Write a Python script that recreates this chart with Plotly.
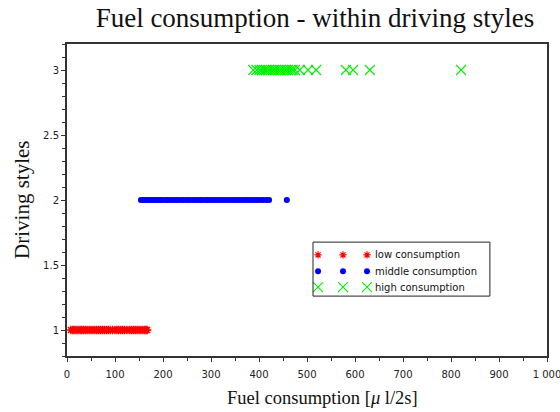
import plotly.graph_objects as go

# Fuel consumption per sample, grouped by driving style
low_fuel = [8, 12, 15, 19, 23, 27, 30, 34, 38, 42, 46, 50, 54, 58, 62, 66, 70, 74,
            78, 82, 86, 90, 95, 100, 104, 108, 112, 116, 120, 125, 130, 134, 138,
            142, 146, 150, 154, 158, 162, 165, 167]
middle_fuel = [154, 159, 164, 169, 174, 179, 184, 189, 194, 199, 205, 210, 216, 221,
               227, 232, 238, 243, 249, 254, 260, 266, 271, 277, 282, 288, 293, 299,
               304, 310, 316, 321, 327, 332, 338, 344, 349, 355, 360, 366, 372, 377,
               383, 388, 394, 399, 405, 410, 416, 421, 458]
high_fuel = [388, 395, 401, 406, 411, 415, 420, 425, 430, 435, 440, 445, 450, 455,
             460, 465, 470, 475, 485, 502, 519, 581, 596, 631, 821]

style_low = 1
style_middle = 2
style_high = 3

x_ticks = [0, 100, 200, 300, 400, 500, 600, 700, 800, 900, 1000]
x_tick_text = ["0", "100", "200", "300", "400", "500", "600", "700", "800", "900", "1 000"]
y_ticks = [1, 1.5, 2, 2.5, 3]

series_names = ["low consumption", "middle consumption", "high consumption"]

RED = "#ff0000"
BLUE = "#0000ff"
GREEN = "#00ee00"

fig = go.Figure()

fig.add_trace(go.Scatter(
    x=low_fuel, y=[style_low] * len(low_fuel), mode="markers",
    marker=dict(symbol="asterisk-open", size=7, color=RED,
                line=dict(color=RED, width=1.4)),
    showlegend=False, hoverinfo="x+y"))
fig.add_trace(go.Scatter(
    x=middle_fuel, y=[style_middle] * len(middle_fuel), mode="markers",
    marker=dict(symbol="circle", size=6, color=BLUE, line=dict(width=0)),
    showlegend=False, hoverinfo="x+y"))
fig.add_trace(go.Scatter(
    x=high_fuel, y=[style_high] * len(high_fuel), mode="markers",
    marker=dict(symbol="x-thin-open", size=10, color=GREEN,
                line=dict(color=GREEN, width=1.1)),
    showlegend=False, hoverinfo="x+y"))

# Legend: three sample glyphs per row, drawn on a helper axis spanning the plot
key_x = [0.523, 0.575, 0.625]
key_rows = [0.324, 0.272, 0.221]
key_styles = [
    dict(symbol="asterisk-open", size=6, color=RED, line=dict(color=RED, width=1.2)),
    dict(symbol="circle", size=6, color=BLUE, line=dict(width=0)),
    dict(symbol="x-thin-open", size=10, color=GREEN, line=dict(color=GREEN, width=1.1)),
]
for row_y, style in zip(key_rows, key_styles):
    fig.add_trace(go.Scatter(
        x=key_x, y=[row_y] * len(key_x), mode="markers", marker=style,
        xaxis="x2", yaxis="y2", showlegend=False, hoverinfo="skip"))

fig.add_shape(type="rect", xref="paper", yref="paper",
              x0=0.5125, x1=0.881, y0=0.192, y1=0.365,
              line=dict(color="#222222", width=1), fillcolor="rgba(0,0,0,0)")
for row_y, name in zip(key_rows, series_names):
    fig.add_annotation(xref="paper", yref="paper", x=0.638, y=row_y, text=name,
                       showarrow=False, xanchor="left", yanchor="middle",
                       font=dict(family="DejaVu Sans", size=10, color="#111111"))

axis_font = dict(family="DejaVu Sans", size=10, color="#222222")
title_font = "Liberation Serif"

# Axis titles placed as annotations
fig.add_annotation(xref="paper", yref="paper", x=0.532, y=-0.135,
                   text="Fuel consumption [<i>μ</i> l/2s]", showarrow=False,
                   xanchor="center", yanchor="middle",
                   font=dict(family=title_font, size=18.5, color="#111111"))
fig.add_annotation(xref="paper", yref="paper", x=-0.094, y=0.5,
                   text="Driving styles", showarrow=False, textangle=-90,
                   xanchor="center", yanchor="middle",
                   font=dict(family=title_font, size=21, color="#111111"))

fig.update_layout(
    width=560, height=412,
    margin=dict(l=67, r=13, t=44, b=56),
    paper_bgcolor="white", plot_bgcolor="white",
    title=dict(text="Fuel consumption - within driving styles",
               font=dict(family=title_font, size=27, color="#111111"),
               x=0.5625, xanchor="center", y=0.957, yanchor="middle"),
    xaxis=dict(
        range=[0, 1000], tickmode="array", tickvals=x_ticks, ticktext=x_tick_text,
        ticklabeloverflow="allow", automargin=False, ticklabelstandoff=4,
        ticks="outside", ticklen=4, tickwidth=1, tickcolor="#333333",
        minor=dict(dtick=50, tick0=0, ticks="outside", ticklen=3, tickcolor="#333333",
                   showgrid=False),
        showgrid=False, zeroline=False, showline=True, mirror=True,
        linecolor="#333333", linewidth=2, tickfont=axis_font),
    yaxis=dict(
        range=[0.8, 3.2], tickmode="array", tickvals=y_ticks, automargin=False,
        ticks="outside", ticklen=4, tickwidth=1, tickcolor="#333333",
        minor=dict(dtick=0.1, tick0=0.8, ticks="outside", ticklen=3, tickcolor="#333333",
                   showgrid=False),
        showgrid=False, zeroline=False, showline=True, mirror=True,
        linecolor="#333333", linewidth=2, tickfont=axis_font),
    xaxis2=dict(overlaying="x", range=[0, 1], visible=False, fixedrange=True),
    yaxis2=dict(overlaying="y", range=[0, 1], visible=False, fixedrange=True),
)

fig.write_html("out.html")
